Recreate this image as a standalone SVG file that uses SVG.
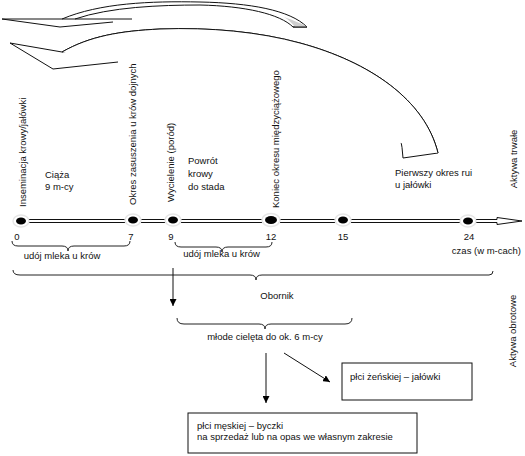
<svg xmlns="http://www.w3.org/2000/svg" width="525" height="456" viewBox="0 0 525 456">
<style>
text{font-family:"Liberation Sans",Arial,sans-serif;font-size:9.5px;fill:#111}
.ln{fill:none;stroke:#111;stroke-width:1}
.band{fill:#fff;stroke:#111;stroke-width:1}
.brace{fill:none;stroke:#222;stroke-width:1}
.halo{fill:#fff;stroke:#e6e6e6;stroke-width:1.5}
.dot{fill:#000}
.box{fill:#fff;stroke:#111;stroke-width:1}
.mid{text-anchor:middle}
</style>
<defs>
<marker id="ah" viewBox="0 0 10 10" refX="10" refY="5" markerWidth="7" markerHeight="7" markerUnits="userSpaceOnUse" orient="auto">
<path d="M0,0 L10,5 L0,10 Z" fill="#000"/>
</marker>
</defs>

<g id="curved-arrow-1">
<path class="band" d="M62,19 C100,3 150,1 200,2 C250,3 290,10 307,27 L293,27 C280,14 245,6 200,5 C160,5 110,7 75,19 Z"/>
<path d="M284,17 C295,21 303,24 307,27 L295,27 C292,23 289,20 284,17 Z" fill="#cfcfcf" stroke="none"/>
<path class="ln" d="M307,27 L293,27"/>
<path class="ln" d="M62,19 L2,19 L60,27 L113,22 M75,19 L132,19"/>
</g>

<g id="curved-arrow-2">
<path class="band" d="M62,52 C90,36 120,31 160,29 C210,27 260,32 300,43 C370,62 425,100 438,153 L403,158 C400,100 360,65 300,46 C260,35 210,31 160,32 C125,33 95,38 68,52 Z"/>
<path d="M350,63 C395,85 428,115 434,150" fill="none" stroke="#cccccc" stroke-width="3"/>
<path class="band" d="M62,52 C90,36 120,31 160,29 C210,27 260,32 300,43 C370,62 425,100 438,153" fill="none"/>
<path class="ln" d="M62,52 L10,43 L53,69 L118,62"/>
</g>

<g id="axis">
<path class="ln" d="M28,219.5 L497,219.5 M28,222.5 L497,222.5"/>
<path class="band" d="M497,219.5 L497,217.5 L522,221 L497,224.5 L497,222.5"/>
<path d="M496,220 L498,220 L498,222 L496,222 Z" fill="#fff"/>
</g>

<g id="dots">
<ellipse class="halo" cx="21" cy="221" rx="8" ry="6"/><ellipse class="dot" cx="21" cy="221" rx="5" ry="3.5"/>
<ellipse class="halo" cx="133" cy="220" rx="8" ry="6"/><ellipse class="dot" cx="133" cy="220" rx="5" ry="3.5"/>
<ellipse class="halo" cx="173" cy="220" rx="8" ry="6"/><ellipse class="dot" cx="173" cy="220" rx="5" ry="3.5"/>
<ellipse class="halo" cx="271" cy="220" rx="9" ry="6.5"/><ellipse class="dot" cx="271" cy="220" rx="6" ry="4"/>
<ellipse class="halo" cx="343" cy="220" rx="8" ry="6"/><ellipse class="dot" cx="343" cy="220" rx="5" ry="3.5"/>
<ellipse class="halo" cx="468" cy="221" rx="8" ry="6"/><ellipse class="dot" cx="468" cy="221" rx="5" ry="3.5"/>
</g>

<g id="numbers">
<text class="mid" x="17" y="240">0</text>
<text class="mid" x="131" y="240">7</text>
<text class="mid" x="171" y="240">9</text>
<text class="mid" x="271" y="240">12</text>
<text class="mid" x="343" y="240">15</text>
<text class="mid" x="469" y="240">24</text>
<text x="521" y="253.5" text-anchor="end">czas (w m-cach)</text>
</g>

<g id="event-labels">
<text transform="translate(25.5,207) rotate(-90)">Inseminacja krowy/jałówki</text>
<text transform="translate(135.5,205) rotate(-90)">Okres zasuszenia u krów dojnych</text>
<text transform="translate(173.5,202) rotate(-90)">Wycielenie (poród)</text>
<text transform="translate(278.5,208) rotate(-90)">Koniec okresu międzyciążowego</text>
<text x="45" y="177.5">Ciąża</text>
<text x="45" y="189.5">9 m-cy</text>
<text x="188" y="163.5">Powrót</text>
<text x="188" y="176.5">krowy</text>
<text x="188" y="189.5">do stada</text>
<text x="395" y="175.5">Pierwszy okres rui</text>
<text x="395" y="187.5">u jałówki</text>
<text class="mid" transform="translate(516.5,159) rotate(-90)">Aktywa trwałe</text>
<text class="mid" transform="translate(515.5,331) rotate(-90)">Aktywa obrotowe</text>
</g>

<g id="brace-udoj-1">
<path class="brace" d="M12,241 Q12,246 18,246 L62,246 Q68,246 68,251 Q68,246 74,246 L124,246 Q130,246 130,241"/>
<text class="mid" x="62" y="258.5">udój mleka u krów</text>
</g>
<g id="brace-udoj-2">
<path class="brace" d="M175,242 Q175,247 181,247 L216,247 Q222,247 222,252 Q222,247 228,247 L266,247 Q272,247 272,242"/>
<text class="mid" x="221.5" y="257">udój mleka u krów</text>
</g>
<g id="brace-obornik">
<path class="brace" d="M13,270 Q13,275 20,275 L250,275 Q256,275 256,280 Q256,275 262,275 L489,275 Q493,275 493,271"/>
<text class="mid" x="277" y="298.5">Obornik</text>
</g>
<g id="brace-cieleta">
<path class="brace" d="M177,318 Q177,324 184,324 L259,324 Q265,324 265,329 Q265,324 271,324 L345,324 Q352,324 352,318"/>
<text class="mid" x="265" y="340">młode cielęta do ok. 6 m-cy</text>
</g>

<g id="box-jalowki">
<rect class="box" x="342" y="363" width="130" height="37"/>
<text x="350" y="380">płci żeńskiej – jałówki</text>
</g>
<g id="box-byczki">
<rect class="box" x="188" y="413" width="229" height="40"/>
<text x="197" y="428.5">płci męskiej – byczki</text>
<text x="197" y="440">na sprzedaż lub na opas we własnym zakresie</text>
</g>

<g id="connectors">
<line class="ln" x1="173" y1="268" x2="173" y2="306" marker-end="url(#ah)"/>
<line class="ln" x1="266" y1="353" x2="266" y2="403" marker-end="url(#ah)"/>
<line class="ln" x1="284" y1="353" x2="330" y2="382" marker-end="url(#ah)"/>
</g>
</svg>
